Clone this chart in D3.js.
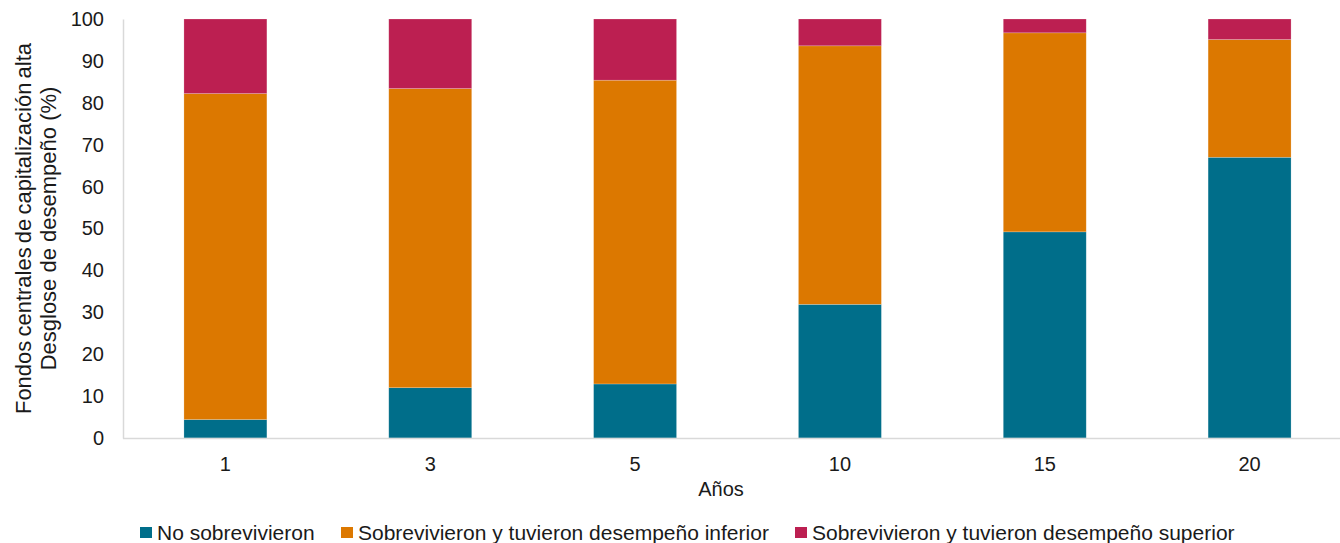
<!DOCTYPE html>
<html>
<head>
<meta charset="utf-8">
<script src="https://cdn.jsdelivr.net/npm/d3@7"></script>
<style>
  body { margin: 0; background: #fff; }
  svg { display: block; font-family: "Liberation Sans", Arial, sans-serif; }
</style>
</head>
<body>
<div id="chart"></div>
<script>
// data
const years = ["1", "3", "5", "10", "15", "20"]
const noSobrevivieron = [4.4, 12.0, 12.9, 31.9, 49.2, 67.0]
const desempenoInferior = [77.8, 71.4, 72.5, 61.7, 47.5, 28.1]
const desempenoSuperior = [17.8, 16.6, 14.6, 6.4, 3.3, 4.9]
const seriesNames = ["No sobrevivieron", "Sobrevivieron y tuvieron desempeño inferior", "Sobrevivieron y tuvieron desempeño superior"]
const yTicks = [0, 10, 20, 30, 40, 50, 60, 70, 80, 90, 100]

const colors = ["#006e8a", "#dc7800", "#bc1f51"]

const width = 1340
const height = 543
const plot = { left: 123, right: 1352, top: 19, bottom: 438 }

const svg = d3.select("#chart")
  .append("svg")
  .attr("width", width)
  .attr("height", height)

const rows = years.map((y, i) => ({
  year: y,
  s0: noSobrevivieron[i],
  s1: desempenoInferior[i],
  s2: desempenoSuperior[i]
}))

const stacked = d3.stack().keys(["s0", "s1", "s2"])(rows)

const x = d3.scaleBand()
  .domain(years)
  .range([plot.left, plot.right])

const y = d3.scaleLinear()
  .domain([0, 100])
  .range([plot.bottom, plot.top])

const barWidth = x.bandwidth() * 0.405

// bars
svg.append("g")
  .selectAll("g")
  .data(stacked)
  .join("g")
    .attr("fill", (d, i) => colors[i])
  .selectAll("rect")
  .data(d => d)
  .join("rect")
    .attr("x", d => x(d.data.year) + (x.bandwidth() - barWidth) / 2)
    .attr("y", d => y(d[1]))
    .attr("width", barWidth)
    .attr("height", d => y(d[0]) - y(d[1]))
    .attr("stroke", "#ffffff")
    .attr("stroke-opacity", 0.35)
    .attr("stroke-width", 0.6)

// y axis
const yAxis = svg.append("g")
  .attr("transform", `translate(${plot.left},0)`)
  .call(d3.axisLeft(y).tickValues(yTicks).tickSize(0).tickPadding(19))
yAxis.select(".domain").attr("stroke", "#d9d9d9").attr("stroke-width", 1.5)
yAxis.selectAll("text")
  .attr("font-size", 20)
  .attr("fill", "#1a1a1a")
  .attr("font-family", "Liberation Sans, Arial, sans-serif")

// x axis
const xAxis = svg.append("g")
  .attr("transform", `translate(0,${plot.bottom})`)
  .call(d3.axisBottom(x).tickSize(0).tickPadding(19))
xAxis.select(".domain")
  .attr("d", `M${plot.left},0.5H${width}`)
  .attr("stroke", "#d9d9d9").attr("stroke-width", 1.5)
xAxis.selectAll("text")
  .attr("font-size", 20)
  .attr("fill", "#1a1a1a")
  .attr("font-family", "Liberation Sans, Arial, sans-serif")

// axis titles
svg.append("text")
  .attr("x", 721)
  .attr("y", 496)
  .attr("text-anchor", "middle")
  .attr("font-size", 20)
  .attr("fill", "#1a1a1a")
  .text("Años")

const yTitle = svg.append("text")
  .attr("transform", `translate(31,${(plot.top + plot.bottom) / 2}) rotate(-90)`)
  .attr("text-anchor", "middle")
  .attr("font-size", 22)
  .attr("fill", "#1a1a1a")
yTitle.append("tspan").attr("x", 0).attr("dy", 0)
  .attr("word-spacing", -2)
  .text("Fondos centrales de capitalización alta")
yTitle.append("tspan").attr("x", 0).attr("dy", 25).text("Desglose de desempeño (%)")

// legend
const legendX = [140, 341, 795]
const legend = svg.append("g")
  .selectAll("g")
  .data(seriesNames)
  .join("g")
    .attr("transform", (d, i) => `translate(${legendX[i]},540)`)
legend.append("rect")
  .attr("x", 0).attr("y", -13)
  .attr("width", 12).attr("height", 11)
  .attr("fill", (d, i) => colors[i])
legend.append("text")
  .attr("x", 17).attr("y", 0)
  .attr("font-size", 21)
  .attr("fill", "#1a1a1a")
  .text(d => d)
</script>
</body>
</html>
